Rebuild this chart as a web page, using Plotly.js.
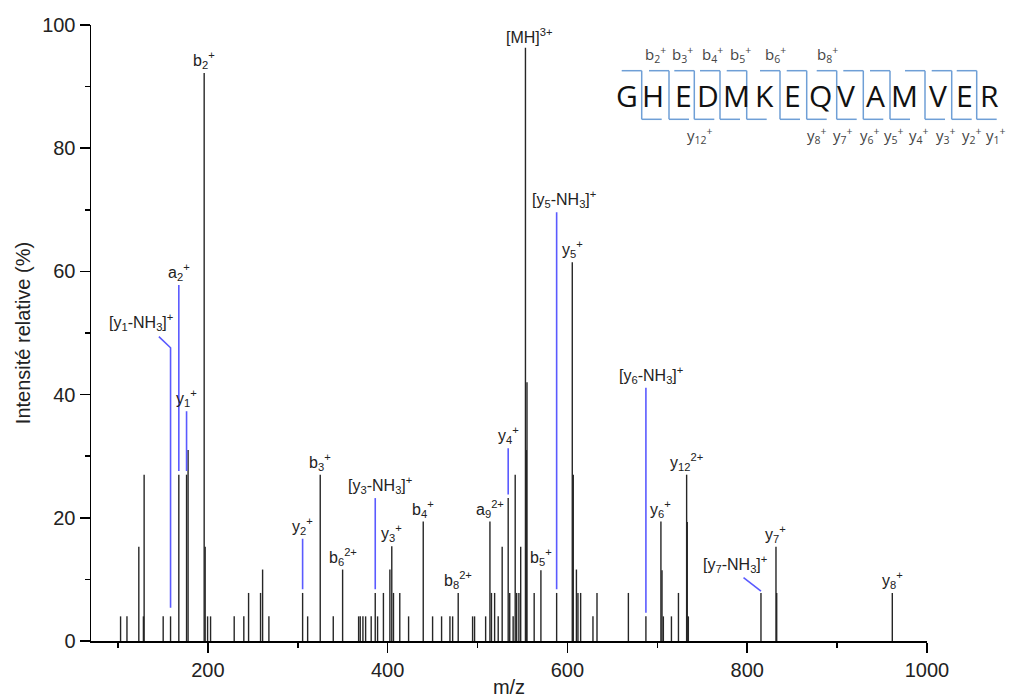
<!DOCTYPE html>
<html>
<head>
<meta charset="utf-8">
<script src="https://cdn.plot.ly/plotly-3.0.1.min.js"></script>
<style>html,body{margin:0;padding:0;background:#fff;}#chart{width:1010px;height:698px;}</style>
</head>
<body>
<div id="chart"></div>
<script>
// ---------- DATA ----------
const peakMz = [102.9,110,123.2,128.3,129.1,150.3,158.5,167.7,176.3,178,195.9,197,199.7,203,229.3,240,245.3,258.6,260.9,267.9,
  305.4,311,325,339.5,349.9,367.7,369.5,372.5,375.5,381.7,386.2,388.8,395.3,402.5,404.6,406.5,413.5,423.3,439.6,450,460,469.3,472.3,478.5,
  494.5,496.7,509,513.8,515.5,519,523,527.4,534.1,535.8,539.6,541.9,543.5,546,548,553.3,554.3,555,563,570.5,588,605.4,606.5,610,611.7,614.7,
  628.4,632.9,667.8,687.3,704,705.2,706.7,715.7,723.5,732.6,733.3,734.5,815.3,832,832.8,961.4];
const peakInt = [4,4,15.3,4,27,4,4,27,27,31,92.2,15.3,4,4,4,4,7.8,7.8,11.6,4,
  7.8,4,27,4,11.6,4,4,4,4,4,7.8,4,7.8,11.6,15.4,7.8,7.8,4,19.4,4,4,4,4,7.8,
  4,4,4,19.4,7.8,7.8,4,15.3,23.2,7.8,4,27,7.8,7.8,15.3,96.3,31,42,7.8,11.5,7.8,61.5,27,11.6,7.8,7.8,
  4,7.8,7.8,4,19.4,11.5,4,4,7.8,27,19.3,4,7.8,15.3,7.8,7.8];

// labelled ions: text, m/z of the labelled peak, intensity of that peak
const ionText = ['b<sub>2</sub><sup>+</sup>','a<sub>2</sub><sup>+</sup>','[y<sub>1</sub>-NH<sub>3</sub>]<sup>+</sup>','y<sub>1</sub><sup>+</sup>',
  'y<sub>2</sub><sup>+</sup>','b<sub>3</sub><sup>+</sup>','b<sub>6</sub><sup>2+</sup>','[y<sub>3</sub>-NH<sub>3</sub>]<sup>+</sup>','y<sub>3</sub><sup>+</sup>',
  'b<sub>4</sub><sup>+</sup>','b<sub>8</sub><sup>2+</sup>','a<sub>9</sub><sup>2+</sup>','y<sub>4</sub><sup>+</sup>','[MH]<sup>3+</sup>','b<sub>5</sub><sup>+</sup>',
  '[y<sub>5</sub>-NH<sub>3</sub>]<sup>+</sup>','y<sub>5</sub><sup>+</sup>','[y<sub>6</sub>-NH<sub>3</sub>]<sup>+</sup>','y<sub>6</sub><sup>+</sup>',
  'y<sub>12</sub><sup>2+</sup>','[y<sub>7</sub>-NH<sub>3</sub>]<sup>+</sup>','y<sub>7</sub><sup>+</sup>','y<sub>8</sub><sup>+</sup>'];
const ionMz  = [195.9,167.7,158.5,176.3,305.4,325,349.9,386.2,404.6,439.6,478.5,513.8,534.1,553.3,570.5,588,605.4,687.3,704,732.6,815.3,832,961.4];
const ionInt = [92.2,27,4,27,7.8,27,11.6,7.8,15.4,19.4,7.8,19.4,23.2,96.3,11.5,7.8,61.5,4,19.4,27,7.8,15.3,7.8];

// peptide sequence and observed fragment labels
const sequence = ['G','H','E','D','M','K','E','Q','V','A','M','V','E','R'];
const bIons = ['b<sub>2</sub><sup>+</sup>','b<sub>3</sub><sup>+</sup>','b<sub>4</sub><sup>+</sup>','b<sub>5</sub><sup>+</sup>','b<sub>6</sub><sup>+</sup>','b<sub>8</sub><sup>+</sup>'];
const yIons = ['y<sub>12</sub><sup>+</sup>','y<sub>8</sub><sup>+</sup>','y<sub>7</sub><sup>+</sup>','y<sub>6</sub><sup>+</sup>','y<sub>5</sub><sup>+</sup>','y<sub>4</sub><sup>+</sup>','y<sub>3</sub><sup>+</sup>','y<sub>2</sub><sup>+</sup>','y<sub>1</sub><sup>+</sup>'];

const xTitle = 'm/z';
const yTitle = 'Intensité relative (%)';

// ---------- LAYOUT HELPERS ----------
const W = 1010, H = 698, ML = 91, MR = 83, MT = 25, MB = 57;
const PW = W - ML - MR, PH = H - MT - MB;
const px2x = p => (p - ML) / PW;           // paper x
const py2y = p => (H - MB - p) / PH;       // paper y
const FONT = 'Liberation Sans, Arial, sans-serif';
const BLUE = '#5a5aff';
const SEQBLUE = '#6f9fd6';

// leader lines (blue) : top of leader in % (null = label sits on the peak)
const leadTop = [null,57.8,null,37.3,16.6,null,null,23.2,null,null,null,null,31.3,null,null,69.6,null,41.1,null,null,null,null,null];
// bent leaders: [x, y] of the start of the slanted part
const leadBend = {2:[145.5,49.4], 20:[795.9,10.3]};
// label anchor override for the bent ones: [x, y]
const labelPos = {2:[126,49.6], 20:[786,10.4]};
// horizontal pixel nudges of some labels
const labelShift = {7:5, 13:4, 15:7, 17:5};

// ---------- TRACES ----------
const sx = [], sy = [];
peakMz.forEach((m,i)=>{ sx.push(m,m,null); sy.push(0,peakInt[i],null); });
const sticks = {x:sx, y:sy, type:'scatter', mode:'lines', line:{color:'#262626', width:1.4}, hoverinfo:'skip', showlegend:false};

const lx = [], ly = [];
const gap = 0.6;
ionMz.forEach((m,i)=>{
  if (leadBend[i]) {
    const b = leadBend[i];
    if (i === 20) { lx.push(b[0], m, null); ly.push(b[1], ionInt[i]+0.3, null); }
    else { lx.push(b[0], m, m, null); ly.push(b[1], b[1]-1.8, ionInt[i]+1.4, null); }
  } else if (leadTop[i] !== null) {
    lx.push(m, m, null); ly.push(leadTop[i], ionInt[i]+gap, null);
  }
});
const leaders = {x:lx, y:ly, type:'scatter', mode:'lines', line:{color:BLUE, width:1.6}, hoverinfo:'skip', showlegend:false};

// ---------- ANNOTATIONS ----------
const annotations = [];
ionText.forEach((t,i)=>{
  let x = ionMz[i], y;
  if (labelPos[i]) { x = labelPos[i][0]; y = labelPos[i][1]; }
  else if (leadTop[i] !== null) y = leadTop[i];
  else y = ionInt[i];
  annotations.push({x:x, y:y, xref:'x', yref:'y', text:t, showarrow:false, xanchor:'center', yanchor:'bottom',
    xshift:labelShift[i] || 0, font:{family:FONT, size:16, color:'#222'}});
});

// peptide diagram (pixel layout)
const letterX = [626.7,653.3,683.3,708.3,736.7,764,792.3,820,846,875,904,938.3,964.3,990];
const cutX = [641.7,669,694.3,720,746.7,780,806.7,836.7,863.3,890,925,951.7,976.7];
const bX = [655,682,712,740,775,827];
const yX = [700,817,843,870,894,919,946,972,996];
const topY = 70.7, botY = 119.3, seg = 20;

sequence.forEach((s,i)=>{
  annotations.push({x:px2x(letterX[i]), y:py2y(95), xref:'paper', yref:'paper', text:s, showarrow:false,
    xanchor:'center', yanchor:'middle', font:{family:'Open Sans, Noto Sans, sans-serif', size:30, color:'#111'}});
});
bIons.forEach((t,i)=>{
  annotations.push({x:px2x(bX[i]), y:py2y(55), xref:'paper', yref:'paper', text:t, showarrow:false,
    xanchor:'center', yanchor:'middle', font:{family:'Open Sans, Noto Sans, sans-serif', size:15, color:'#444'}});
});
yIons.forEach((t,i)=>{
  annotations.push({x:px2x(yX[i]), y:py2y(135), xref:'paper', yref:'paper', text:t, showarrow:false,
    xanchor:'center', yanchor:'middle', font:{family:'Open Sans, Noto Sans, sans-serif', size:15, color:'#444'}});
});

const shapes = [];
cutX.forEach(c=>{
  const ln = (x0,y0,x1,y1)=>shapes.push({type:'line', xref:'paper', yref:'paper', x0:px2x(x0), y0:py2y(y0), x1:px2x(x1), y1:py2y(y1), line:{color:SEQBLUE, width:1.5}});
  ln(c-seg, topY, c, topY);
  ln(c, topY, c, botY);
  ln(c, botY, c+seg, botY);
});

const layout = {
  width:W, height:H,
  margin:{l:ML, r:MR, t:MT, b:MB, pad:0},
  paper_bgcolor:'#fff', plot_bgcolor:'#fff',
  font:{family:FONT, color:'#222'},
  showlegend:false,
  xaxis:{range:[70,1000], tick0:0, dtick:200, ticks:'outside', ticklen:10, tickwidth:1.5, tickcolor:'#000',
    minor:{dtick:100, ticks:'outside', ticklen:5, tickwidth:1.5, tickcolor:'#000'},
    showline:true, linecolor:'#000', linewidth:1.5, showgrid:false, zeroline:false,
    tickfont:{family:FONT, size:20, color:'#222'},
    title:{text:xTitle, font:{family:FONT, size:20, color:'#222'}, standoff:6}, automargin:false},
  yaxis:{range:[0,100], tick0:0, dtick:20, ticks:'outside', ticklen:10, tickwidth:1.5, tickcolor:'#000',
    minor:{dtick:10, ticks:'outside', ticklen:5, tickwidth:1.5, tickcolor:'#000'},
    showline:true, linecolor:'#000', linewidth:1.5, showgrid:false, zeroline:false,
    tickfont:{family:FONT, size:20, color:'#222'},
    title:{text:yTitle, font:{family:FONT, size:20, color:'#222'}, standoff:6}, automargin:false},
  annotations:annotations,
  shapes:shapes
};

Plotly.newPlot('chart', [sticks, leaders], layout, {displayModeBar:false, staticPlot:true});
</script>
</body>
</html>
